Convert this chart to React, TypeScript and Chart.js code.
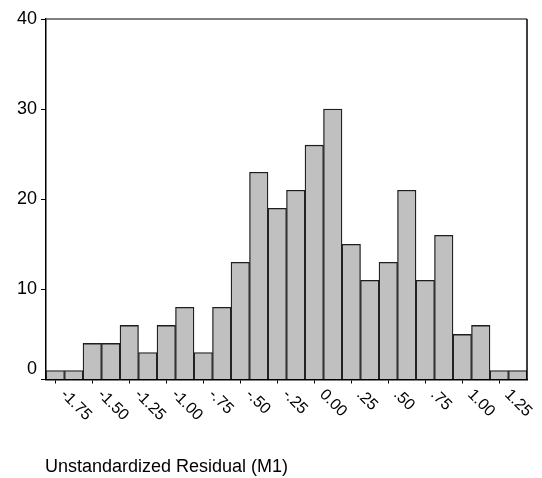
import React, { useEffect, useRef } from "react";
import { Chart, registerables } from "chart.js";

Chart.register(...registerables);

// Histogram bins (centres) and frequencies
const binCenters = [
  -1.75, -1.625, -1.5, -1.375, -1.25, -1.125, -1.0, -0.875, -0.75, -0.625, -0.5, -0.375, -0.25,
  -0.125, 0.0, 0.125, 0.25, 0.375, 0.5, 0.625, 0.75, 0.875, 1.0, 1.125, 1.25, 1.375,
];
const counts = [1, 1, 4, 4, 6, 3, 6, 8, 3, 8, 13, 23, 19, 21, 26, 30, 15, 11, 13, 21, 11, 16, 5, 6, 1, 1];
const binWidth = 0.125;

const xTickValues = [-1.75, -1.5, -1.25, -1.0, -0.75, -0.5, -0.25, 0.0, 0.25, 0.5, 0.75, 1.0, 1.25];
const xTickLabels = ["-1.75", "-1.50", "-1.25", "-1.00", "-.75", "-.50", "-.25", "0.00", ".25", ".50", ".75", "1.00", "1.25"];
const yTickValues = [0, 10, 20, 30, 40];
const yTickLabels = ["0", "10", "20", "30", "40"];
const xTitle = "Unstandardized Residual (M1)";

const FONT = '"Liberation Sans", Arial, sans-serif';

const labelPlugin = {
  id: "spssLabels",
  afterDraw(chart: any) {
    const ctx = chart.ctx;
    const xs = chart.scales.x;
    const ys = chart.scales.y;
    const area = chart.chartArea;
    ctx.save();
    // frame top and right
    ctx.lineWidth = 1.5;
    ctx.strokeStyle = "#555";
    ctx.beginPath();
    ctx.moveTo(area.left, area.top);
    ctx.lineTo(area.right, area.top);
    ctx.stroke();
    ctx.strokeStyle = "#000";
    ctx.beginPath();
    ctx.moveTo(area.right, area.top);
    ctx.lineTo(area.right, area.bottom);
    ctx.stroke();

    ctx.fillStyle = "#000";
    // x tick labels rotated 45deg clockwise
    ctx.font = "16px " + FONT;
    ctx.textAlign = "left";
    ctx.textBaseline = "top";
    xTickValues.forEach((v, i) => {
      const px = xs.getPixelForValue(v);
      ctx.save();
      ctx.translate(px + 13.5, area.bottom + 7);
      ctx.rotate(Math.PI / 4);
      ctx.fillText(xTickLabels[i], 0, 0);
      ctx.restore();
    });
    // y tick labels
    ctx.font = "18px " + FONT;
    ctx.textAlign = "right";
    ctx.textBaseline = "middle";
    yTickValues.forEach((v, i) => {
      const py = ys.getPixelForValue(v) + (v === 0 ? -10 : 0);
      ctx.fillText(yTickLabels[i], area.left - 9, py);
    });
    // axis title
    ctx.font = "18px " + FONT;
    ctx.textAlign = "left";
    ctx.textBaseline = "alphabetic";
    ctx.fillText(xTitle, 45, 472);
    ctx.restore();
  },
};

export default function App() {
  const ref = useRef<HTMLCanvasElement>(null);
  useEffect(() => {
    if (!ref.current) return;
    const chart = new Chart(ref.current, {
      type: "bar",
      data: {
        datasets: [
          {
            data: binCenters.map((c, i) => ({ x: c, y: counts[i] })),
            backgroundColor: "#c0c0c0",
            borderColor: "#1e1e1e",
            borderWidth: 1.3,
            barPercentage: 1,
            categoryPercentage: 1,
          },
        ],
      },
      options: {
        responsive: false,
        animation: false,
        layout: { padding: { top: 19, right: 15, left: 0, bottom: 0 } },
        plugins: { legend: { display: false }, tooltip: { enabled: false }, title: { display: false } },
        scales: {
          x: {
            type: "linear",
            offset: false,
            min: binCenters[0] - binWidth / 2,
            max: binCenters[binCenters.length - 1] + binWidth / 2,
            afterBuildTicks: (s: any) => {
              s.ticks = xTickValues.map((v) => ({ value: v }));
            },
            ticks: { display: false },
            grid: { offset: false, drawOnChartArea: false, drawTicks: true, tickLength: 4, color: "#000", lineWidth: 1 },
            border: { display: true, color: "#000", width: 1.5 },
            afterFit: (s: any) => {
              s.height = 98.5;
            },
          },
          y: {
            min: 0,
            max: 40,
            afterBuildTicks: (s: any) => {
              s.ticks = yTickValues.map((v) => ({ value: v }));
            },
            ticks: { display: false },
            grid: { drawOnChartArea: false, drawTicks: true, tickLength: 5, color: "#000", lineWidth: 1 },
            border: { display: true, color: "#000", width: 1.5 },
            afterFit: (s: any) => {
              s.width = 46;
            },
          },
        },
      },
      plugins: [labelPlugin],
    });
    return () => chart.destroy();
  }, []);
  return (
    <div style={{ position: "fixed", left: 0, top: 0, width: 542, height: 478, background: "#fff" }}>
      <canvas ref={ref} width={542} height={478} style={{ display: "block" }} />
    </div>
  );
}
